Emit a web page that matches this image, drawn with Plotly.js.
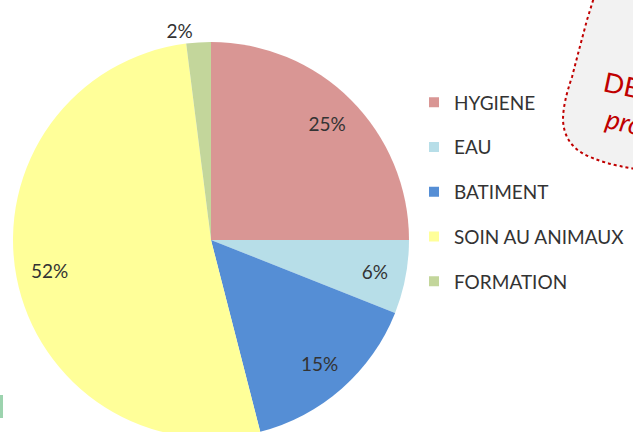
<!DOCTYPE html>
<html>
<head>
<meta charset="utf-8">
<script src="https://cdn.plot.ly/plotly-3.0.1.min.js"></script>
<style>
html,body{margin:0;padding:0;overflow:hidden;background:#fff;}
#chart{width:633px;height:438px;}
</style>
</head>
<body>
<div id="chart"></div>
<script>
var categories = ["HYGIENE", "EAU", "BATIMENT", "SOIN AU ANIMAUX", "FORMATION"];
var values = [25, 6, 15, 52, 2];
var colors = ["#D99694", "#B7DEE8", "#558ED5", "#FFFF99", "#C3D69B"];
var textPositions = ["inside", "inside", "inside", "inside", "outside"];

var W = 633, H = 438, T = 42;
function px(x){ return x / W; }
function py(y){ return (H - y) / (H - T); }
var pieDomain = {x: [px(13), px(409)], y: [0, 1]};

var traces = [{
  type: "pie",
  labels: categories,
  values: values,
  sort: false,
  direction: "clockwise",
  rotation: 0,
  marker: {colors: colors, line: {width: 0}},
  textinfo: "none",
  showlegend: false,
  hoverinfo: "label+percent",
  domain: pieDomain
}, {
  // transparent ring that carries the percentage labels at ~0.83 R
  type: "pie",
  labels: categories,
  values: values,
  sort: false,
  direction: "clockwise",
  rotation: 0,
  hole: 0.66,
  marker: {colors: categories.map(function(){ return "rgba(0,0,0,0)"; }), line: {width: 0}},
  textinfo: "percent",
  textposition: textPositions,
  insidetextorientation: "horizontal",
  textfont: {family: "Lato", size: 19, color: "#333333"},
  outsidetextfont: {family: "Lato", size: 19, color: "#333333"},
  showlegend: false,
  hoverinfo: "skip",
  domain: pieDomain
}];

categories.forEach(function(c, i){
  traces.push({
    type: "scatter",
    mode: "markers",
    x: [null], y: [null],
    name: c,
    legendgroup: "g" + i,
    marker: {symbol: "square", size: 10, color: colors[i]},
    hoverinfo: "skip"
  });
});

var calloutPath = "M " + px(595) + "," + py(-6) +
  " L " + px(587) + "," + py(20) +
  " L " + px(579) + "," + py(50) +
  " L " + px(572) + "," + py(77) +
  " Q " + px(563) + "," + py(103) + " " + px(563) + "," + py(120) +
  " Q " + px(564) + "," + py(142) + " " + px(582) + "," + py(153) +
  " Q " + px(602) + "," + py(164) + " " + px(636) + "," + py(169) +
  " L " + px(645) + "," + py(169) +
  " L " + px(645) + "," + py(-6) + " Z";

var layout = {
  width: W,
  height: H,
  margin: {l: 0, r: 0, t: T, b: 0, pad: 0},
  paper_bgcolor: "#ffffff",
  plot_bgcolor: "rgba(0,0,0,0)",
  xaxis: {visible: false, range: [0, 1], fixedrange: true},
  yaxis: {visible: false, range: [0, 1], fixedrange: true},
  showlegend: true,
  legend: {
    x: px(414), xanchor: "left",
    y: py(192), yanchor: "middle",
    traceorder: "grouped",
    tracegroupgap: 17,
    font: {family: "Lato", size: 19, color: "#333333"},
    bgcolor: "rgba(0,0,0,0)",
    borderwidth: 0
  },
  shapes: [
    {type: "path", xref: "paper", yref: "paper", path: calloutPath,
     fillcolor: "#F2F2F2", line: {color: "#C00000", width: 2, dash: "dot"}, layer: "below"},
    {type: "rect", xref: "paper", yref: "paper",
     x0: px(0), x1: px(3), y0: py(418), y1: py(395),
     fillcolor: "#9CD3AE", line: {width: 0}}
  ],
  annotations: [
    {text: "DE", xref: "paper", yref: "paper", x: px(599), y: py(84),
     xanchor: "left", yanchor: "middle", showarrow: false, textangle: 12,
     font: {family: "Lato", size: 27, color: "#C00000"}},
    {text: "<i>pro</i>", xref: "paper", yref: "paper", x: px(601), y: py(122),
     xanchor: "left", yanchor: "middle", showarrow: false, textangle: 12,
     font: {family: "Lato", size: 27, color: "#C00000"}}
  ]
};

Plotly.newPlot("chart", traces, layout, {displayModeBar: false, staticPlot: true});
</script>
</body>
</html>
